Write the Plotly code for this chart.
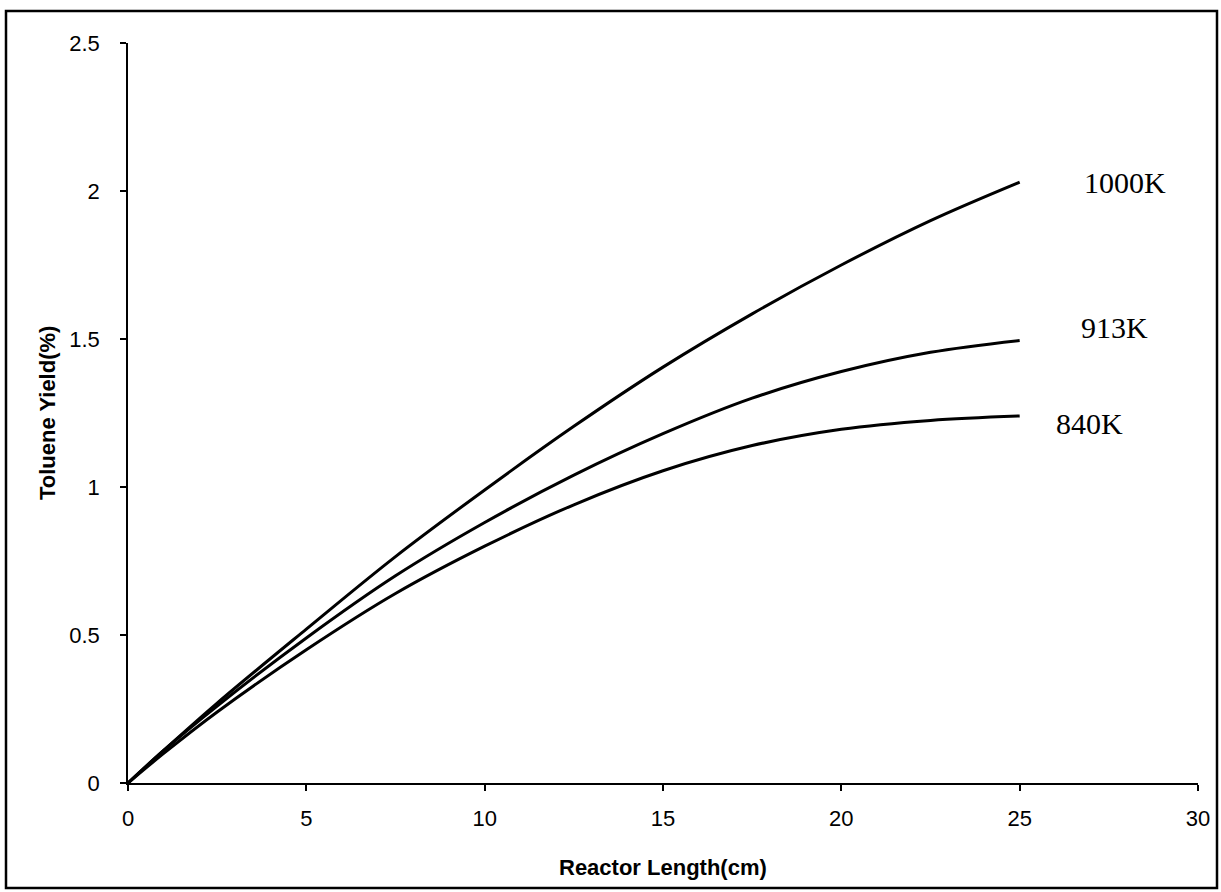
import plotly.graph_objects as go

# Data
reactor_length = [0, 1, 2.5, 5, 7.5, 10, 12.5, 15, 17.5, 20, 22.5, 25]
yield_1000K = [0, 0.11, 0.27, 0.52, 0.765, 0.99, 1.205, 1.405, 1.585, 1.75, 1.90, 2.03]
yield_913K = [0, 0.11, 0.26, 0.49, 0.70, 0.88, 1.04, 1.18, 1.30, 1.39, 1.455, 1.495]
yield_840K = [0, 0.10, 0.24, 0.45, 0.64, 0.80, 0.94, 1.055, 1.14, 1.195, 1.225, 1.24]
series_names = ["1000K", "913K", "840K"]
label_x = [27.95, 27.67, 26.97]
label_y = [2.03, 1.54, 1.215]
x_ticks = [0, 5, 10, 15, 20, 25, 30]
y_ticks = [0, 0.5, 1, 1.5, 2, 2.5]
y_tick_text = ["0", "0.5", "1", "1.5", "2", "2.5"]

W, H = 1221, 892
ML, MR, MT, MB = 128, 23, 43, 109
pw, ph = W - ML - MR, H - MT - MB

fig = go.Figure()
for name, ys in zip(series_names, [yield_1000K, yield_913K, yield_840K]):
    fig.add_trace(go.Scatter(
        x=reactor_length, y=ys, mode="lines", name=name,
        line=dict(color="black", width=3, shape="spline", smoothing=1.0),
        showlegend=False,
    ))

for name, lx, ly in zip(series_names, label_x, label_y):
    fig.add_annotation(x=lx, y=ly, xref="x", yref="y", text=name, showarrow=False,
                       font=dict(family="Liberation Serif, Times New Roman, serif", size=30, color="black"),
                       xanchor="center", yanchor="middle")

# axis titles
fig.add_annotation(x=0.5, y=(783 - 867) / ph, xref="paper", yref="paper",
                   text="<b>Reactor Length(cm)</b>", showarrow=False,
                   font=dict(family="Liberation Sans, Arial, sans-serif", size=22, color="black"),
                   xanchor="center", yanchor="middle")
fig.add_annotation(x=(47 - ML) / pw, y=0.5, xref="paper", yref="paper",
                   text="<b>Toluene Yield(%)</b>", showarrow=False, textangle=-90,
                   font=dict(family="Liberation Sans, Arial, sans-serif", size=22, color="black"),
                   xanchor="center", yanchor="middle")

# outer frame
fig.add_shape(type="rect", xref="paper", yref="paper",
              x0=(6 - ML) / pw, x1=(1217 - ML) / pw,
              y0=(783 - 888) / ph, y1=(783 - 11) / ph,
              line=dict(color="black", width=2.5), fillcolor="rgba(0,0,0,0)")

tickfont = dict(family="Liberation Sans, Arial, sans-serif", size=22, color="black")
fig.update_xaxes(range=[0, 30], tickvals=x_ticks, ticktext=[str(v) for v in x_ticks],
                 showgrid=False, zeroline=False, showline=True, linecolor="black", linewidth=1.5,
                 ticks="outside", ticklen=6, tickwidth=1.5, tickcolor="black",
                 tickfont=tickfont, ticklabelstandoff=9)
fig.update_yaxes(range=[0, 2.5], tickvals=y_ticks, ticktext=y_tick_text,
                 showgrid=False, zeroline=False, showline=True, linecolor="black", linewidth=1.5,
                 ticks="outside", ticklen=6, tickwidth=1.5, tickcolor="black",
                 tickfont=tickfont, ticklabelstandoff=16)

fig.update_layout(
    width=W, height=H,
    margin=dict(l=ML, r=MR, t=MT, b=MB, autoexpand=False),
    plot_bgcolor="white", paper_bgcolor="white",
)

fig.write_html("out.html", config={"displayModeBar": False},
               post_script="document.body.style.margin='0';document.body.style.overflow='hidden';")
